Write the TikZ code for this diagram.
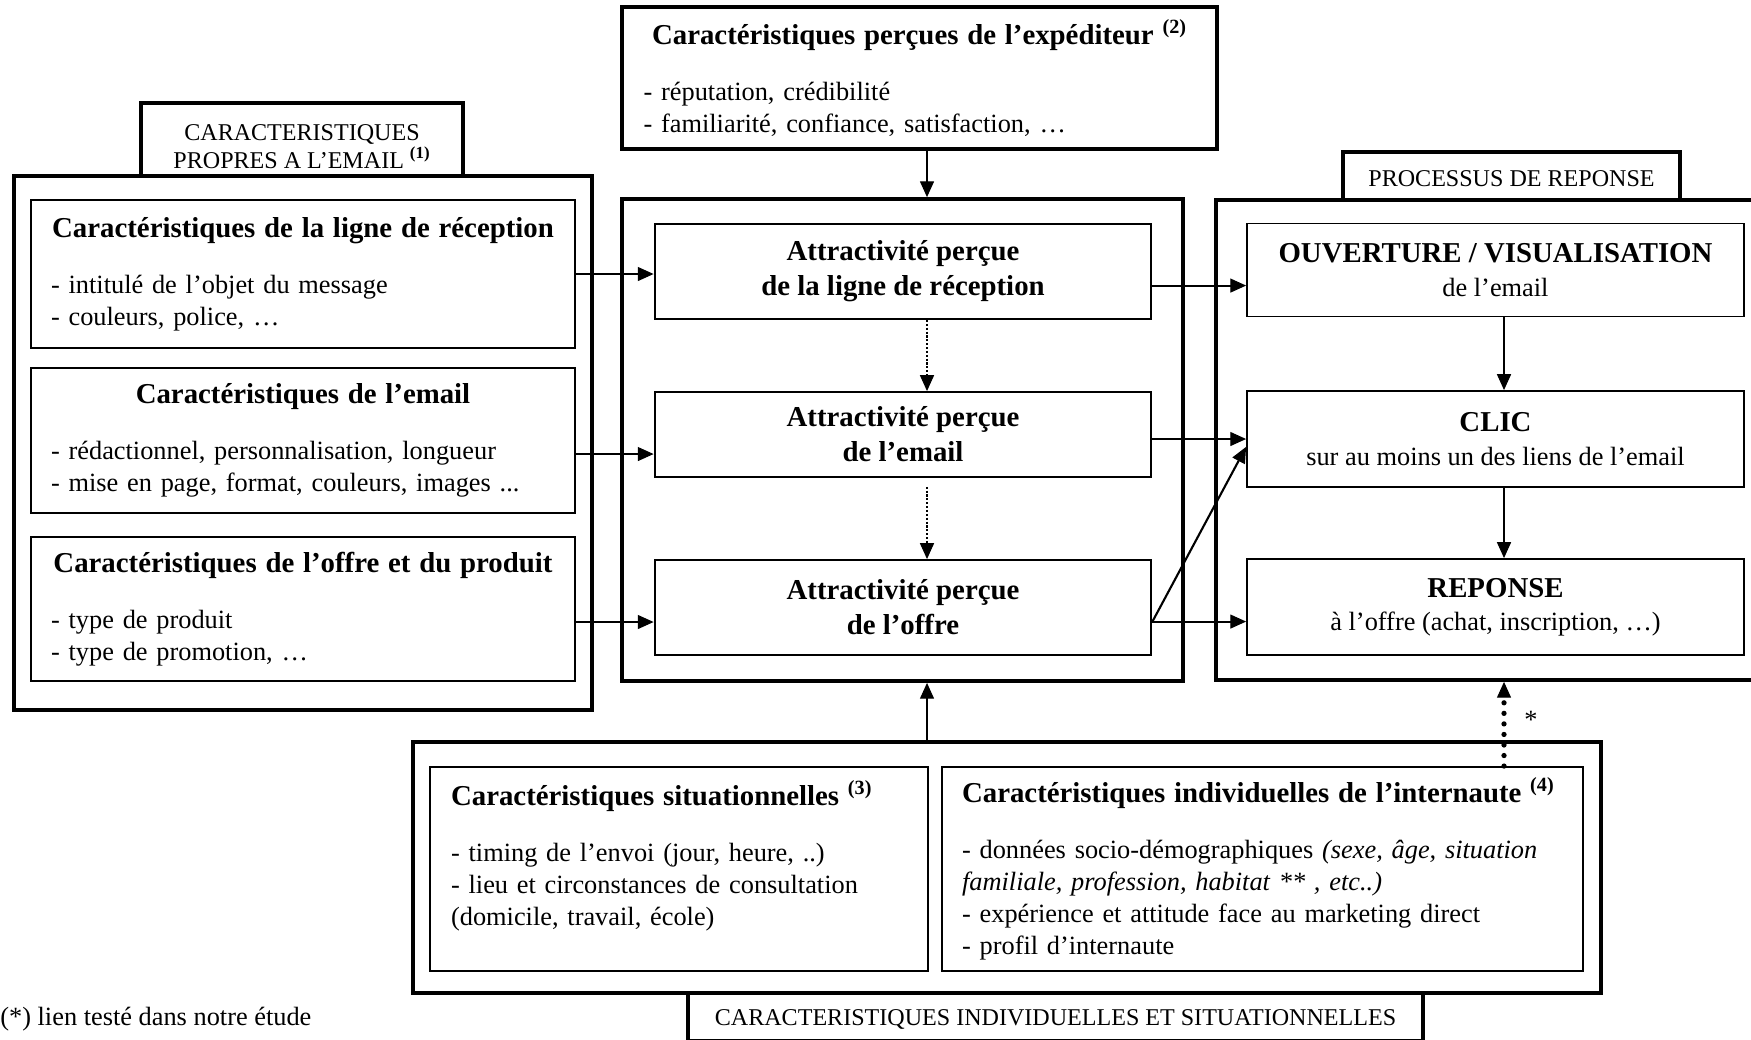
\documentclass[tikz,border=0pt]{standalone}
\usepackage{fontspec}
\setmainfont{Liberation Serif}
\usetikzlibrary{arrows.meta}

\newcommand{\boxtitle}[1]{{\fontsize{16.4}{20}\selectfont\bfseries #1}}
\newcommand{\refnum}[1]{\textsuperscript{\textbf{(#1)}}}

\begin{document}
\begin{tikzpicture}[x=0.02cm, y=-0.02cm,
    frame/.style={draw, line width=2.2pt, inner sep=0pt},
    tab/.style={draw, line width=2.2pt, fill=white, align=center, inner sep=0pt,
        font=\fontsize{13.7}{15.6}\selectfont},
    inbox/.style={draw, line width=1.1pt, inner xsep=0.4cm, inner ysep=0pt, align=left,
        font=\fontsize{15}{18.2}\selectfont},
    attr/.style={draw, line width=1.1pt, align=center, minimum width=9.94cm,
        font=\fontsize{16.4}{20}\selectfont\bfseries},
    resp/.style={draw, line width=1.1pt, align=center, minimum width=9.94cm,
        font=\fontsize{15}{19}\selectfont},
    arr/.style={-{Triangle[length=9pt, width=8pt, line width=0.6pt]}, line width=1.2pt},
    bigdots/.style={line width=3pt, dash pattern=on 0pt off 6pt, line cap=round}
    ]

    \useasboundingbox (0,0) rectangle (1751,1039);

    % frames and their tabs
    \node[frame, minimum width=11.56cm, minimum height=10.68cm] (FL) at (303,443) {};
    \node[frame, minimum width=11.22cm, minimum height=9.64cm] (FM) at (902.5,440) {};
    \node[frame, minimum width=11.48cm, minimum height=9.6cm] (FR) at (1503,440) {};
    \node[frame, minimum width=23.76cm, minimum height=5.02cm] (FB) at (1007,867.5) {};

    \node[tab, minimum width=6.44cm, minimum height=1.46cm] (T1) at (302,139.5)
        {\rule{0pt}{17pt}CARACTERISTIQUES\\PROPRES A L’EMAIL \refnum{1}};
    \node[tab, minimum width=6.74cm, minimum height=0.96cm] (T2) at (1511.5,176)
        {\rule{0pt}{12pt}PROCESSUS DE REPONSE};
    \node[tab, minimum width=14.7cm, minimum height=0.96cm] (T3) at (1055.5,1017)
        {\rule{0pt}{12pt}CARACTERISTIQUES INDIVIDUELLES ET SITUATIONNELLES};

    % sender
    \node[inbox, line width=2.2pt, inner xsep=0.43cm, text width=11.04cm, minimum height=2.84cm] (EXP) at (919.5,78)
        {\makebox[\hsize]{\boxtitle{Caractéristiques perçues de l’expéditeur \refnum{2}}}\\[13.7pt]
         - réputation, crédibilité\\
         - familiarité, confiance, satisfaction, …};

    % email characteristics
    \node[inbox, text width=10.08cm, minimum height=2.96cm] (L1) at (303,274)
        {\makebox[\hsize]{\boxtitle{Caractéristiques de la ligne de réception}}\\[13.7pt]
         - intitulé de l’objet du message\\
         - couleurs, police, …};
    \node[inbox, text width=10.08cm, minimum height=2.9cm] (L2) at (303,440.5)
        {\makebox[\hsize]{\boxtitle{Caractéristiques de l’email}}\\[13.7pt]
         - rédactionnel, personnalisation, longueur\\
         - mise en page, format, couleurs, images ...};
    \node[inbox, text width=10.08cm, minimum height=2.88cm] (L3) at (303,609)
        {\makebox[\hsize]{\boxtitle{Caractéristiques de l’offre et du produit}}\\[13.7pt]
         - type de produit\\
         - type de promotion, …};

    % perceived attractiveness
    \node[attr, minimum height=1.9cm] (A1) at (903,271.5) {Attractivité perçue\\de la ligne de réception};
    \node[attr, minimum height=1.7cm] (A2) at (903,434.5) {Attractivité perçue\\de l’email};
    \node[attr, minimum height=1.9cm] (A3) at (903,607.5) {Attractivité perçue\\de l’offre};

    % response process
    \node[resp, minimum height=1.86cm] (R1) at (1495.5,270)
        {\boxtitle{OUVERTURE / VISUALISATION}\\de l’email};
    \node[resp, minimum height=1.92cm] (R2) at (1495.5,439)
        {\boxtitle{CLIC}\\sur au moins un des liens de l’email};
    \node[resp, minimum height=1.92cm] (R3) at (1495.5,607)
        {\boxtitle{REPONSE}\\à l’offre (achat, inscription, …)};

    % individual and situational characteristics
    \node[inbox, inner xsep=0.42cm, text width=9.12cm, minimum height=4.08cm] (B1) at (679,869)
        {\boxtitle{Caractéristiques situationnelles \refnum{3}}\\[13.7pt]
         - timing de l’envoi (jour, heure, ..)\\
         - lieu et circonstances de consultation\\
         (domicile, travail, école)\\
         \mbox{}};
    \node[inbox, inner xsep=0.4cm, text width=12.02cm, minimum height=4.08cm] (B2) at (1262.5,869)
        {\boxtitle{Caractéristiques individuelles de l’internaute \refnum{4}}\\[13.7pt]
         - données socio-démographiques \textit{(sexe, âge, situation}\\
         \textit{familiale, profession, habitat ** , etc..)}\\
         - expérience et attitude face au marketing direct\\
         - profil d’internaute};

    \node[anchor=west, inner sep=0pt, font=\fontsize{15}{18}\selectfont] (note) at (0,1019)
        {(*) lien testé dans notre étude};
    \node[inner sep=0pt, font=\fontsize{15}{18}\selectfont] (star) at (1531,720) {*};

    % connectors
    \coordinate (cx) at (927,0);
    \coordinate (rx) at (1504,0);

    \draw[arr] (EXP.south -| cx) -- (FM.north -| cx);
    \draw[arr, densely dotted, line width=0.9pt] (A1.south -| cx) -- (A2.north -| cx);
    \draw[arr, densely dotted, line width=0.9pt, shorten <=5pt] (A2.south -| cx) -- (A3.north -| cx);
    \draw[arr] (FB.north -| cx) -- (FM.south -| cx);

    \draw[arr] (L1.east) -- (L1.east -| A1.west);
    \draw[arr] ([yshift=-7.7pt]L2.east) -- ([yshift=-7.7pt]L2.east -| A2.west);
    \draw[arr] ([yshift=-7.4pt]L3.east) -- ([yshift=-7.4pt]L3.east -| A3.west);

    \draw[arr] ([yshift=-8pt]A1.east) -- ([yshift=-8pt]A1.east -| R1.west);
    \draw[arr] (A2.east |- R2.west) -- (R2.west);
    \draw[arr] ([yshift=-8pt]A3.east) -- ([yshift=-8pt]A3.east -| R3.west);
    \draw[arr] ([yshift=-8pt]A3.east) -- ([yshift=-4.5pt]R2.west);

    \draw[arr] (R1.south -| rx) -- (R2.north -| rx);
    \draw[arr] (R2.south -| rx) -- (R3.north -| rx);
    \draw[arr, bigdots] (B2.north -| rx) -- (FR.south -| rx);

\end{tikzpicture}
\end{document}
